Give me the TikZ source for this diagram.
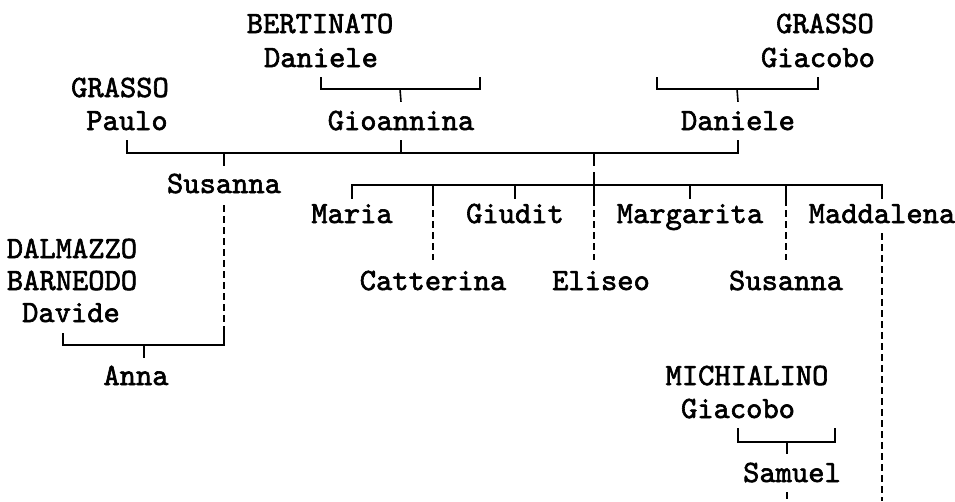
\documentclass[tikz,border=0pt]{standalone}
\usepackage{fontspec}
\newfontfamily\namefont{lmmono10-regular.otf}[FakeBold=2]
\usetikzlibrary{positioning}

\begin{document}
\begin{tikzpicture}
[x=1pt,y=-1pt,
  nameDecorate/.style={font=\namefont\fontsize{31}{32}\selectfont,
    inner sep=0pt,anchor=base,text height=19pt,text depth=5pt},%
  lineDecorate/.style={line width=1.6pt},%
  dashDecorate/.style={line width=1.6pt,dash pattern=on 7pt off 4pt}]
\useasboundingbox (0,0) rectangle (955,501);
%% names
\foreach \nodename/\x/\y/\txt in {
  bertinato/320/33/BERTINATO, danieleB/321/67/Daniele,
  grassoG/825/33/GRASSO, giacoboG/818/67/Giacobo,
  grassoP/120/97/GRASSO, paulo/127/130/Paulo,
  gioannina/401/130/Gioannina, daniele/738/130/Daniele,
  susanna/224/193/Susanna,
  maria/352/223/Maria, giudit/515/223/Giudit,
  margarita/690/223/Margarita, maddalena/882/223/Maddalena,
  catterina/433/290/Catterina, eliseo/601/290/Eliseo, susannaB/786/290/Susanna,
  dalmazzo/72/258/DALMAZZO, barneodo/72/290/BARNEODO, davide/71/322/Davide,
  anna/136/385/Anna,
  michialino/747/385/MICHIALINO, giacoboM/738/418/Giacobo,
  samuel/792/482/Samuel}
{
  \node[nameDecorate] (\nodename) at (\x,\y) {\txt};
}
%% marriage bars and loose ends
\coordinate (bertBar) at (400,89);
\coordinate (bertSpouse) at (480,77);
\coordinate (grassoBar) at (737,89);
\coordinate (grassoSpouse) at (657,77);
\coordinate (parentsBar) at (594,153);
\coordinate (kidsBar) at (594,185);
\coordinate (annaBar) at (144,345);
\coordinate (michBar) at (787,442);
\coordinate (michSpouse) at (835,428);
\coordinate (maddEnd) at (882,501);
\coordinate (samEnd) at (787,501);
%% couples
\draw[lineDecorate] ([yshift=-5pt]danieleB.south) |- (bertBar) -| (bertSpouse);
\draw[lineDecorate] (bertBar) -- ([yshift=9pt]gioannina.north);
\draw[lineDecorate] (grassoSpouse) |- (grassoBar) -| ([yshift=-5pt]giacoboG.south);
\draw[lineDecorate] (grassoBar) -- ([yshift=9pt]daniele.north);
\draw[lineDecorate] ([yshift=-5pt]paulo.south) |- (parentsBar) -| ([yshift=-5pt]daniele.south);
\draw[lineDecorate] ([yshift=-5pt]gioannina.south) -- (gioannina.south |- parentsBar);
\draw[lineDecorate] (susanna.north |- parentsBar) -- ([yshift=8pt]susanna.north);
\draw[lineDecorate] (parentsBar) -- ++(0,13);
%% children of Gioannina and Daniele
\draw[lineDecorate] (kidsBar) ++(0,-13) -- ++(0,27) coordinate (eliTick);
\draw[lineDecorate] ([yshift=5pt]maria.north) |- (kidsBar) -| ([yshift=5pt]maddalena.north);
\foreach \kid in {catterina, giudit, margarita, susannaB}
{
  \draw[lineDecorate] (\kid.north |- kidsBar) -- ++(0,14) coordinate (\kid-tick);
}
\foreach \kid in {catterina, susannaB}
{
  \draw[dashDecorate] (\kid-tick) -- ([yshift=11pt]\kid.north);
}
\draw[dashDecorate] (eliTick) -- ([yshift=11pt]eliseo.north -| eliTick);
\draw[dashDecorate] ([yshift=-5pt]maddalena.south) -- (maddEnd);
%% Susanna and Davide
\draw[dashDecorate] ([yshift=-7pt]susanna.south) -- ([yshift=12pt]susanna.south |- annaBar);
\draw[lineDecorate] ([xshift=-8pt,yshift=-6pt]davide.south) |- (annaBar)
  -| ([yshift=12pt]susanna.south |- annaBar);
\draw[lineDecorate] (annaBar) -- ([yshift=8pt]anna.north -| annaBar);
%% Giacobo and Samuel
\draw[lineDecorate] ([yshift=-5pt]giacoboM.south) |- (michBar) -| (michSpouse);
\draw[lineDecorate] (michBar) -- ([yshift=9pt]samuel.north -| michBar);
\draw[dashDecorate] ([yshift=-5pt]samuel.south -| michBar) -- (samEnd);
\end{tikzpicture}
\end{document}
